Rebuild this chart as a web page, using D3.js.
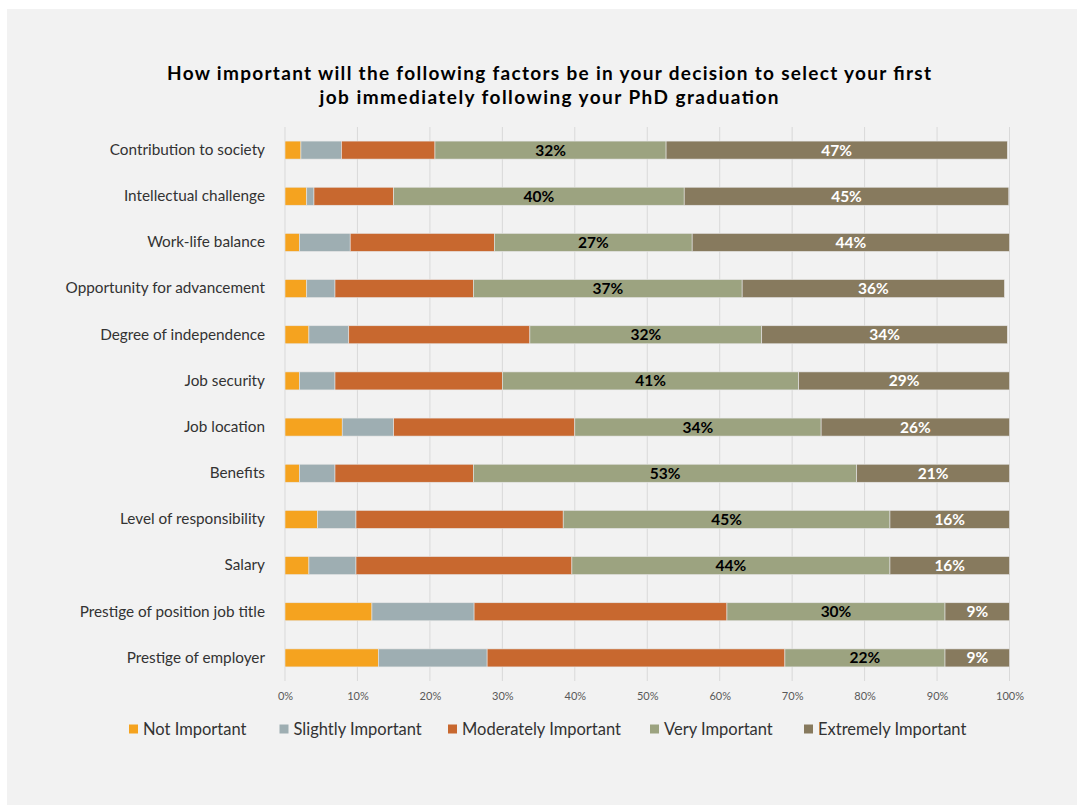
<!DOCTYPE html>
<html>
<head>
<meta charset="utf-8">
<script src="https://cdn.jsdelivr.net/npm/d3@7"></script>
<style>
  html, body { margin: 0; padding: 0; background: #ffffff; }
  svg { display: block; }
</style>
</head>
<body>
<svg id="chart" width="1077" height="805"></svg>
<script>
// ---- data ----
const categories = [
  "Contribution to society",
  "Intellectual challenge",
  "Work-life balance",
  "Opportunity for advancement",
  "Degree of independence",
  "Job security",
  "Job location",
  "Benefits",
  "Level of responsibility",
  "Salary",
  "Prestige of position job title",
  "Prestige of employer"
];
const seriesNames = ["Not Important", "Slightly Important", "Moderately Important", "Very Important", "Extremely Important"];
const notImportant      = [2.2, 3.0, 2.0, 3.0, 3.3, 2.0, 7.9, 2.0, 4.5, 3.3, 12.0, 12.9];
const slightlyImportant = [5.6, 1.0, 7.0, 3.9, 5.5, 4.9, 7.1, 4.9, 5.3, 6.5, 14.1, 15.0];
const moderatelyImportant = [12.9, 11.0, 19.9, 19.1, 25.0, 23.1, 25.0, 19.1, 28.6, 29.8, 34.9, 41.1];
const veryImportant     = [31.9, 40.1, 27.3, 37.1, 32.0, 40.9, 34.0, 52.9, 45.1, 43.9, 30.1, 22.1];
const extremelyImportant = [47.1, 44.8, 43.8, 36.2, 33.9, 29.1, 26.0, 21.1, 16.5, 16.5, 8.9, 8.9];
const veryLabels     = ["32%", "40%", "27%", "37%", "32%", "41%", "34%", "53%", "45%", "44%", "30%", "22%"];
const extremeLabels  = ["47%", "45%", "44%", "36%", "34%", "29%", "26%", "21%", "16%", "16%", "9%", "9%"];
const xTicks = [0, 10, 20, 30, 40, 50, 60, 70, 80, 90, 100];
const titleLines = [
  "How important will the following factors be in your decision to select your first",
  "job immediately following your PhD graduation"
];
const colors = ["#F5A31F", "#9EAEB2", "#C8682F", "#9CA380", "#877A5E"];

// ---- build ----
const series = [notImportant, slightlyImportant, moderatelyImportant, veryImportant, extremelyImportant];
const rows = categories.map((c, i) => {
  const o = { cat: c };
  seriesNames.forEach((s, j) => o[s] = series[j][i]);
  return o;
});
const stacked = d3.stack().keys(seriesNames)(rows);

const svg = d3.select("#chart");
const font = "'Lato', 'Open Sans', sans-serif";

svg.append("rect").attr("x", 7).attr("y", 9).attr("width", 1070).attr("height", 796).attr("fill", "#F2F2F2");

const margin = { left: 285, top: 127 };
const x = d3.scaleLinear().domain([0, 100]).range([margin.left, 1009.5]);
const y = d3.scaleBand().domain(categories).range([margin.top, 681]).paddingInner(0.61).paddingOuter(0.305);

// title
const titleWidths = [764, 459];
svg.append("g").selectAll("text").data(titleLines).join("text")
  .attr("x", 549).attr("y", (d, i) => 80 + i * 24)
  .attr("text-anchor", "middle")
  .attr("font-family", font).attr("font-weight", "bold").attr("font-size", 19)
  .attr("textLength", (d, i) => titleWidths[i]).attr("lengthAdjust", "spacing")
  .attr("fill", "#000").text(d => d);

// grid
svg.append("g").selectAll("line").data(xTicks).join("line")
  .attr("x1", d => x(d)).attr("x2", d => x(d))
  .attr("y1", margin.top).attr("y2", 681)
  .attr("stroke", "#D9D9D9").attr("stroke-width", 1);

// x axis labels
const xAxis = d3.axisBottom(x).tickValues(xTicks).tickFormat(d => d + "%").tickSize(0).tickPadding(0);
const gx = svg.append("g").attr("transform", `translate(0, 692)`).call(xAxis);
gx.select(".domain").remove();
gx.selectAll("text").attr("font-family", font).attr("font-size", 11).attr("fill", "#595959").attr("dy", "0.71em");

// y axis labels
const yAxis = d3.axisLeft(y).tickSize(0).tickPadding(20);
const gy = svg.append("g").attr("transform", `translate(${margin.left}, 0)`).call(yAxis);
gy.select(".domain").remove();
gy.selectAll("text").attr("font-family", font).attr("font-size", 15.3).attr("fill", "#333");

// bars
const layers = svg.append("g").selectAll("g").data(stacked).join("g")
  .attr("fill", (d, i) => colors[i]);
layers.selectAll("rect").data(d => d).join("rect")
  .attr("x", d => x(d[0])).attr("width", d => x(d[1]) - x(d[0]))
  .attr("y", d => y(d.data.cat)).attr("height", y.bandwidth())
  .attr("stroke", "#E6E6E6").attr("stroke-width", 0.6);

// value labels
const labelSets = [
  { layer: 3, labels: veryLabels, color: "#000" },
  { layer: 4, labels: extremeLabels, color: "#fff" }
];
labelSets.forEach(ls => {
  svg.append("g").selectAll("text").data(stacked[ls.layer]).join("text")
    .attr("x", d => (x(d[0]) + x(d[1])) / 2)
    .attr("y", d => y(d.data.cat) + y.bandwidth() / 2)
    .attr("dy", "0.36em")
    .attr("text-anchor", "middle")
    .attr("font-family", font).attr("font-weight", "bold").attr("font-size", 15.5)
    .attr("fill", ls.color)
    .text((d, i) => ls.labels[i]);
});

// legend
const legendX = [129, 279.5, 448, 650, 804];
const lg = svg.append("g").selectAll("g").data(seriesNames).join("g")
  .attr("transform", (d, i) => `translate(${legendX[i]}, 729)`);
lg.append("rect").attr("x", 0).attr("y", -4.5).attr("width", 9).attr("height", 9)
  .attr("fill", (d, i) => colors[i]);
lg.append("text").attr("x", 14).attr("y", 0).attr("dy", "0.36em")
  .attr("font-family", font).attr("font-size", 16.5).attr("fill", "#333").text(d => d);
</script>
</body>
</html>
